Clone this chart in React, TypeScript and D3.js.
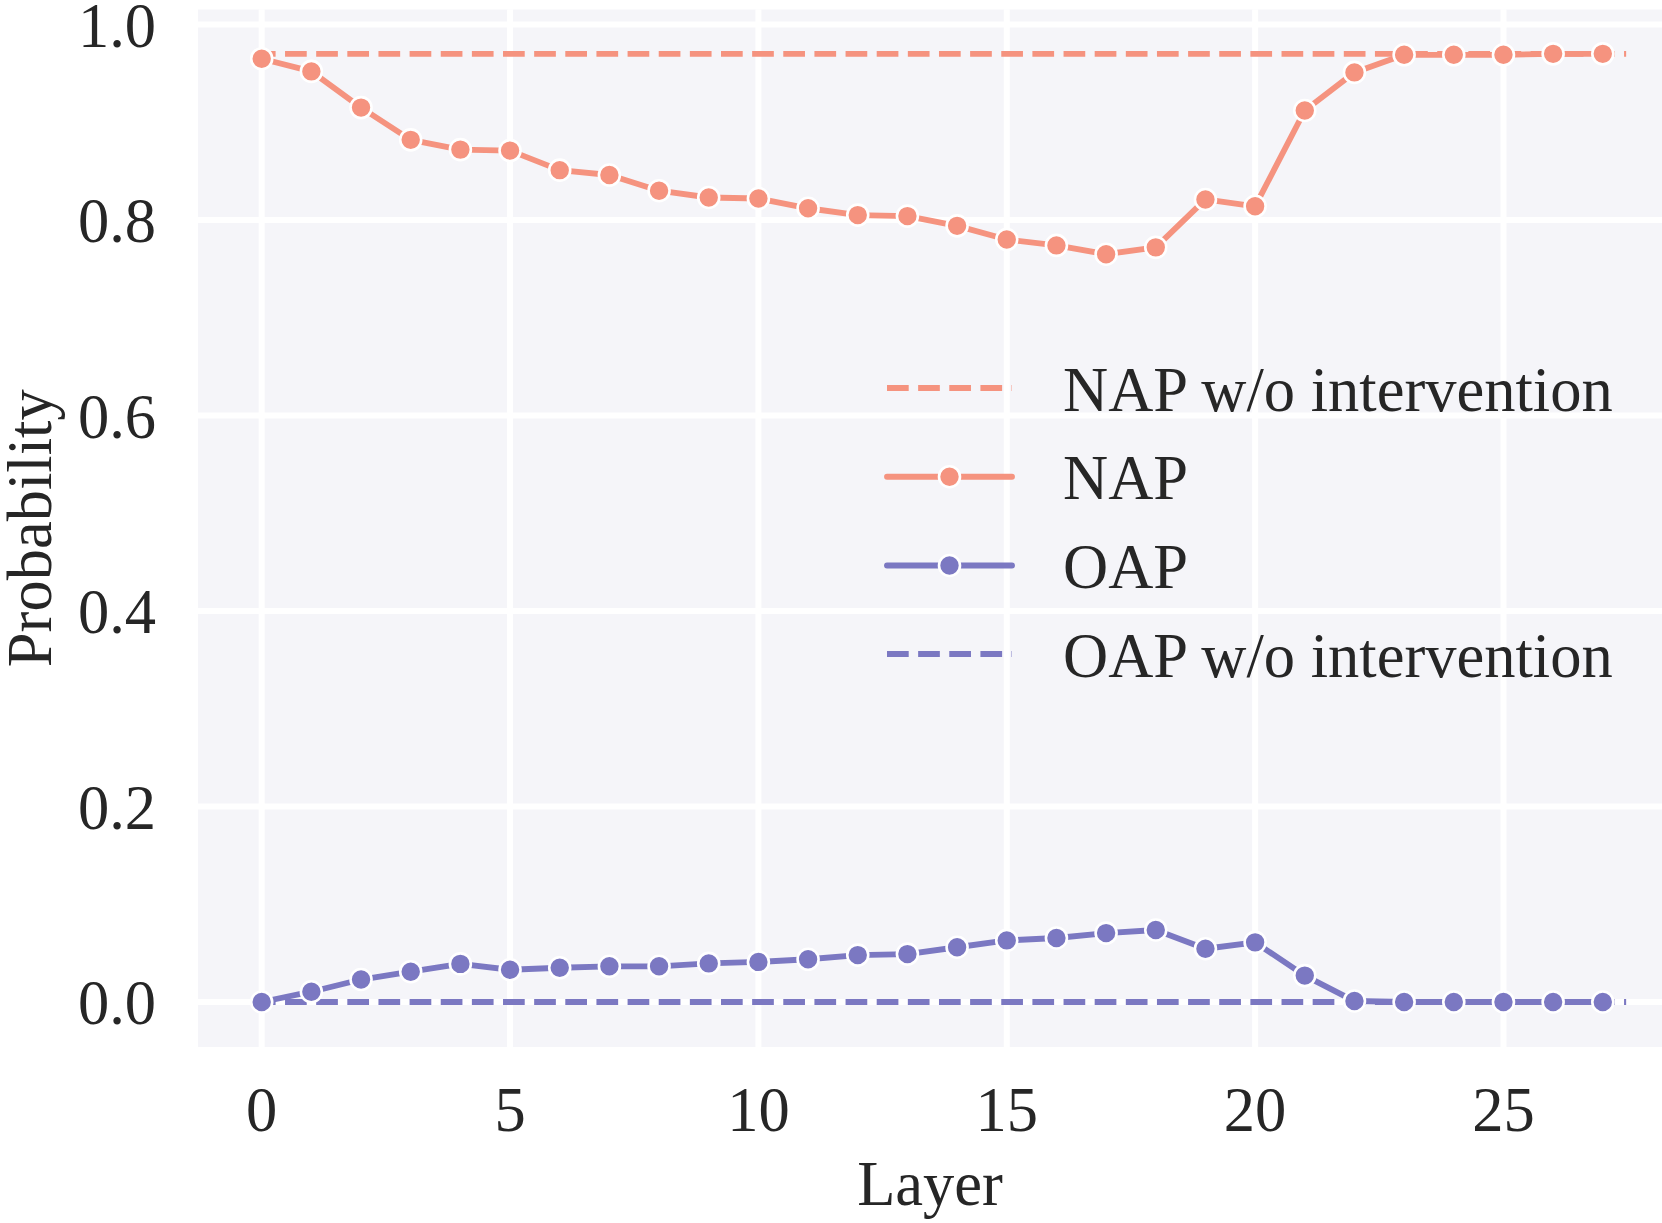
import React from "react";
import * as d3 from "d3";

const layers: number[] = d3.range(0, 28);
const napValues: number[] = [
  0.965, 0.952, 0.915, 0.882, 0.872, 0.871, 0.851, 0.846, 0.830, 0.823,
  0.822, 0.812, 0.805, 0.804, 0.794, 0.780, 0.774, 0.765, 0.772, 0.821,
  0.814, 0.912, 0.951, 0.969, 0.969, 0.969, 0.970, 0.970,
];
const oapValues: number[] = [
  0.000, 0.0105, 0.023, 0.031, 0.039, 0.033, 0.035, 0.0365, 0.0365, 0.0395,
  0.041, 0.0437, 0.048, 0.049, 0.056, 0.063, 0.0655, 0.0705, 0.0737, 0.0545,
  0.061, 0.027, 0.001, 0.0, 0.0, 0.0, 0.0, 0.0,
];
const napBaseline = 0.970;
const oapBaseline = 0.0;
const baselineRange: [number, number] = [0, 27.47];
const xTicks: number[] = [0, 5, 10, 15, 20, 25];
const yTicks: number[] = [0, 0.2, 0.4, 0.6, 0.8, 1.0];
const legendLabels: string[] = [
  "NAP w/o intervention",
  "NAP",
  "OAP",
  "OAP w/o intervention",
];

const W = 1662;
const H = 1223;
const NAP_COLOR = "#F5937F";
const OAP_COLOR = "#7B78C2";
const BG = "#F5F5F9";
const TEXT = "#262626";
const FONT = "'Liberation Serif', 'Times New Roman', serif";
const FS = 62.5;
const LW = 5.85;
const DASH = "21.7 9.44";

export default function App() {
  const plot = { left: 198, right: W, top: 9.5, bottom: 1047 };
  const x = d3.scaleLinear().domain([0, 27]).range([261.7, 1602.8]);
  const y = d3.scaleLinear().domain([0, 1]).range([1002, 24.5]);

  const line = d3
    .line<number>()
    .x((_, i) => x(layers[i]))
    .y((d) => y(d));

  const legendY = [388, 476.7, 565.5, 654];
  const legX0 = 887;
  const legX1 = 1012;
  const legText = 1063;

  return (
    <svg
      width={W}
      height={H}
      viewBox={`0 0 ${W} ${H}`}
      style={{ position: "fixed", left: 0, top: 0, display: "block", background: "#fff" }}
    >
      <rect x={plot.left} y={plot.top} width={plot.right - plot.left} height={plot.bottom - plot.top} fill={BG} />
      {/* grid */}
      {xTicks.map((t) => (
        <line key={`gx${t}`} x1={x(t)} x2={x(t)} y1={plot.top} y2={plot.bottom} stroke="#fff" strokeWidth={6} />
      ))}
      {yTicks.map((t) => (
        <line key={`gy${t}`} x1={plot.left} x2={plot.right} y1={y(t)} y2={y(t)} stroke="#fff" strokeWidth={6} />
      ))}

      {/* baselines */}
      <line
        x1={x(baselineRange[0])}
        x2={x(baselineRange[1])}
        y1={y(napBaseline)}
        y2={y(napBaseline)}
        stroke={NAP_COLOR}
        strokeWidth={LW}
        strokeDasharray={DASH}
        strokeDashoffset={7.8}
      />
      <line
        x1={x(baselineRange[0])}
        x2={x(baselineRange[1])}
        y1={y(oapBaseline)}
        y2={y(oapBaseline)}
        stroke={OAP_COLOR}
        strokeWidth={LW}
        strokeDasharray={DASH}
        strokeDashoffset={7.8}
      />

      {/* series */}
      <path d={line(napValues) || ""} fill="none" stroke={NAP_COLOR} strokeWidth={LW} strokeLinejoin="round" />
      {napValues.map((v, i) => (
        <circle key={`n${i}`} cx={x(layers[i])} cy={y(v)} r={10.5} fill={NAP_COLOR} stroke="#fff" strokeWidth={2.6} />
      ))}
      <path d={line(oapValues) || ""} fill="none" stroke={OAP_COLOR} strokeWidth={LW} strokeLinejoin="round" />
      {oapValues.map((v, i) => (
        <circle key={`o${i}`} cx={x(layers[i])} cy={y(v)} r={10.5} fill={OAP_COLOR} stroke="#fff" strokeWidth={2.6} />
      ))}

      {/* tick labels */}
      {yTicks.map((t) => (
        <text
          key={`ty${t}`}
          x={156}
          y={y(t) + 22}
          textAnchor="end"
          fontFamily={FONT}
          fontSize={FS}
          fill={TEXT}
        >
          {t.toFixed(1)}
        </text>
      ))}
      {xTicks.map((t) => (
        <text
          key={`tx${t}`}
          x={x(t)}
          y={1131}
          textAnchor="middle"
          fontFamily={FONT}
          fontSize={FS}
          fill={TEXT}
        >
          {t}
        </text>
      ))}

      {/* axis labels */}
      <text x={930} y={1205} textAnchor="middle" fontFamily={FONT} fontSize={FS} fill={TEXT}>
        Layer
      </text>
      <text
        transform={`translate(51, ${(plot.top + plot.bottom) / 2}) rotate(-90)`}
        textAnchor="middle"
        fontFamily={FONT}
        fontSize={FS}
        fill={TEXT}
      >
        Probability
      </text>

      {/* legend */}
      <g>
        <line x1={legX0} x2={legX1} y1={legendY[0]} y2={legendY[0]} stroke={NAP_COLOR} strokeWidth={LW} strokeDasharray={DASH} />
        <line x1={legX0} x2={legX1} y1={legendY[1]} y2={legendY[1]} stroke={NAP_COLOR} strokeWidth={LW} strokeLinecap="round" />
        <circle cx={(legX0 + legX1) / 2} cy={legendY[1]} r={10.5} fill={NAP_COLOR} stroke="#fff" strokeWidth={2.6} />
        <line x1={legX0} x2={legX1} y1={legendY[2]} y2={legendY[2]} stroke={OAP_COLOR} strokeWidth={LW} strokeLinecap="round" />
        <circle cx={(legX0 + legX1) / 2} cy={legendY[2]} r={10.5} fill={OAP_COLOR} stroke="#fff" strokeWidth={2.6} />
        <line x1={legX0} x2={legX1} y1={legendY[3]} y2={legendY[3]} stroke={OAP_COLOR} strokeWidth={LW} strokeDasharray={DASH} />
        {legendLabels.map((l, i) => (
          <text key={l} x={legText} y={legendY[i] + 22.5} fontFamily={FONT} fontSize={FS} fill={TEXT}>
            {l}
          </text>
        ))}
      </g>
    </svg>
  );
}
